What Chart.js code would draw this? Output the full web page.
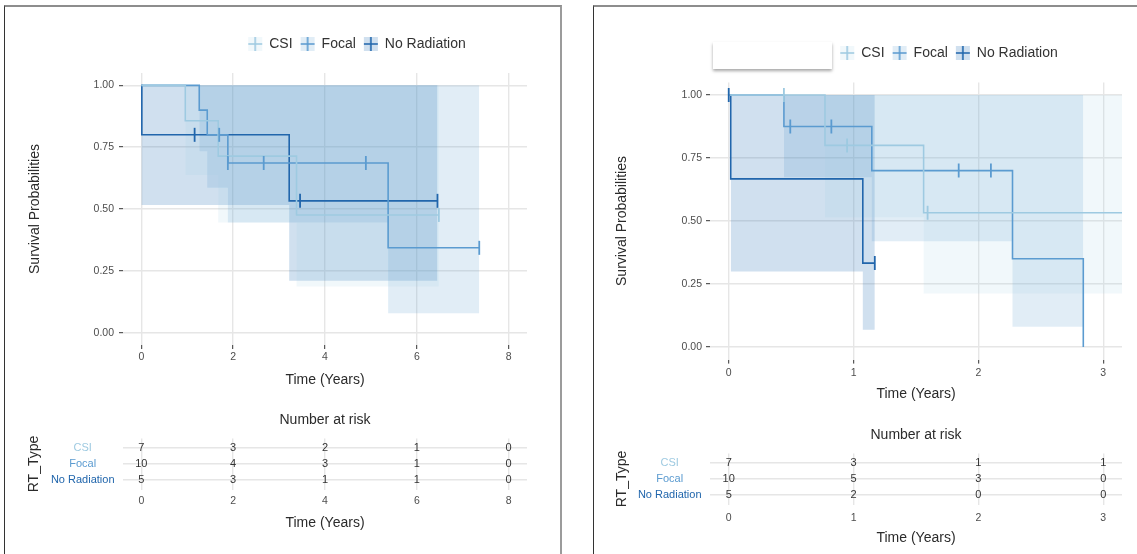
<!DOCTYPE html>
<html>
<head>
<meta charset="utf-8">
<script src="https://cdn.jsdelivr.net/npm/chart.js@4.4.1/dist/chart.umd.min.js"></script>
<style>
  html, body { margin: 0; padding: 0; background: #fff; }
  body { width: 1137px; height: 554px; position: relative; overflow: hidden; }
  .frame { position: absolute; box-sizing: border-box; }
  #frameA { left: 4px; top: 5px; width: 558px; height: 600px;
            border-top: 2px solid #8d8d8d; border-left: 1px solid #333; border-right: 2px solid #9b9b9b; }
  #frameB { left: 593px; top: 5px; width: 600px; height: 600px;
            border-top: 2px solid #8d8d8d; border-left: 1px solid #333; }
  canvas { position: absolute; }
  #blankBox { position: absolute; left: 713px; top: 42px; width: 119px; height: 27px;
              background: #fff; box-shadow: 0 2px 3px rgba(0,0,0,0.35); }
</style>
</head>
<body>
<div class="frame" id="frameA"></div>
<div class="frame" id="frameB"></div>
<canvas id="survA" width="560" height="400" style="left:0;top:0"></canvas>
<canvas id="riskA" width="560" height="154" style="left:0;top:400px"></canvas>
<canvas id="survB" width="543" height="410" style="left:594px;top:0"></canvas>
<canvas id="riskB" width="543" height="144" style="left:594px;top:410px"></canvas>
<div id="blankBox"></div>
<script>
Chart.defaults.font.family = "'Liberation Sans', Arial, Helvetica, sans-serif";

// Treatment groups and probability ticks
const groups = ['CSI', 'Focal', 'No Radiation'];
const survTicks = [0, 0.25, 0.5, 0.75, 1];

// ---------- Cohort A ----------
// Kaplan-Meier steps: each survival value holds from its time until the next
const csiTimesA   = [0, 0.957, 1.674, 3.38, 6.48];
const csiSurvA    = [1, 0.857, 0.714, 0.476, 0.476];
const focalTimesA = [0, 1.261, 1.435, 1.884, 5.375, 7.36];
const focalSurvA  = [1, 0.9, 0.8, 0.686, 0.343, 0.343];
const noRadTimesA = [0, 0.01, 3.22, 6.45];
const noRadSurvA  = [1, 0.8, 0.533, 0.533];
// censoring times
const csiCensorA   = [6.48];
const focalCensorA = [1.696, 1.884, 2.665, 4.89, 7.36];
const noRadCensorA = [1.16, 3.457, 6.45];
// confidence bands (step start times, lower and upper limits)
const csiBandTimesA   = [0.957, 1.674, 3.38, 6.48];
const csiLowerA       = [0.637, 0.445, 0.187, 0.187];
const csiUpperA       = [1, 1, 1, 1];
const focalBandTimesA = [1.261, 1.435, 1.884, 5.375, 7.36];
const focalLowerA     = [0.734, 0.586, 0.445, 0.078, 0.078];
const focalUpperA     = [1, 1, 1, 1, 1];
const noRadBandTimesA = [0, 3.22, 6.45];
const noRadLowerA     = [0.516, 0.21, 0.21];
const noRadUpperA     = [1, 1, 1];
// number at risk
const riskTimesA = [0, 2, 4, 6, 8];
const csiRiskA   = [7, 3, 2, 1, 0];
const focalRiskA = [10, 4, 3, 1, 0];
const noRadRiskA = [5, 3, 1, 1, 0];
const xTicksA = [0, 2, 4, 6, 8];

// ---------- Cohort B ----------
const csiTimesB   = [0, 0.771, 1.561, 3.15];
const csiSurvB    = [1, 0.8, 0.533, 0.533];
const focalTimesB = [0, 0.442, 1.146, 2.273, 2.84];
const focalSurvB  = [1, 0.875, 0.7, 0.35, 0];
const noRadTimesB = [0, 0.016, 1.074, 1.17];
const noRadSurvB  = [1, 0.667, 0.333, 0.333];
const csiCensorB   = [0.442, 0.948, 1.593];
const focalCensorB = [0.493, 0.822, 1.842, 2.10];
const noRadCensorB = [0, 1.17];
const csiBandTimesB   = [0.771, 1.561, 3.15];
const csiLowerB       = [0.515, 0.212, 0.212];
const csiUpperB       = [1, 1, 1];
const focalBandTimesB = [0.442, 1.146, 2.273, 2.84];
const focalLowerB     = [0.674, 0.42, 0.08, 0.08];
const focalUpperB     = [1, 1, 1, 1];
const noRadBandTimesB = [0.016, 1.074, 1.17];
const noRadLowerB     = [0.30, 0.068, 0.068];
const noRadUpperB     = [1, 1, 1];
const riskTimesB = [0, 1, 2, 3];
const csiRiskB   = [7, 3, 1, 1];
const focalRiskB = [10, 5, 3, 0];
const noRadRiskB = [5, 2, 0, 0];
const xTicksB = [0, 1, 2, 3];

// ---------- styling ----------
const lineColors = ['#9ecae1', '#5b9bd0', '#2166ac'];
const bandColors = ['rgba(158,202,225,0.14)', 'rgba(66,146,198,0.16)', 'rgba(42,114,182,0.22)'];
const gridColor = '#e6e6e6';
const tickText = '#4d4d4d';
const titleText = '#2b2b2b';

const pts = (xs, ys) => xs.map((x, i) => ({ x, y: ys[i] }));
// survival value of a step curve at time t
function survAt(times, surv, t) {
  let s = surv[0];
  for (let i = 0; i < times.length; i++) if (times[i] <= t) s = surv[i];
  return s;
}

function survDatasets(series) {
  const ds = [];
  series.forEach((s, i) => ds.push({
    label: groups[i] + ' censored',
    data: s.censor.map(t => ({ x: t, y: survAt(s.times, s.surv, t) })),
    showLine: false, pointStyle: 'line', rotation: 90,
    pointRadius: 7, pointHoverRadius: 7, pointBorderWidth: 1.8,
    pointBorderColor: lineColors[i], borderColor: lineColors[i], order: 0
  }));
  series.forEach((s, i) => ds.push({
    label: groups[i], data: pts(s.times, s.surv), stepped: true,
    borderColor: lineColors[i], borderWidth: 1.6, pointRadius: 0, fill: false, order: 1
  }));
  series.forEach((s, i) => {
    const upperIndex = ds.length;
    ds.push({ label: groups[i] + ' upper', data: pts(s.bandTimes, s.upper), stepped: true,
      borderWidth: 0, borderColor: 'transparent', pointRadius: 0, fill: false, order: 2 });
    ds.push({ label: groups[i] + ' lower', data: pts(s.bandTimes, s.lower), stepped: true,
      borderWidth: 0, borderColor: 'transparent', pointRadius: 0,
      fill: upperIndex, backgroundColor: bandColors[i], order: 2 });
  });
  return ds;
}

function legendGlyph(i) {
  const c = document.createElement('canvas');
  c.width = 16; c.height = 16;
  const g = c.getContext('2d');
  g.fillStyle = bandColors[i];
  g.fillRect(1, 1, 14, 14);
  g.strokeStyle = lineColors[i];
  g.lineWidth = 1.6;
  g.beginPath();
  g.moveTo(8, 1); g.lineTo(8, 15);
  g.moveTo(1, 8); g.lineTo(15, 8);
  g.stroke();
  return c;
}
const glyphs = groups.map((_, i) => legendGlyph(i));

// moves the legend row to a chosen centre point after layout
const legendPlacement = {
  id: 'legendPlacement',
  afterLayout(chart, args, opts) {
    const lg = chart.legend;
    if (!lg || !lg.options.display) return;
    const pad = lg.options.labels.padding;
    const size = lg.options.labels.font.size;
    const dx = opts.x - (lg.left + lg.right) / 2;
    const dy = opts.y - (lg.top + pad + size / 2);
    lg.left += dx; lg.right += dx; lg.top += dy; lg.bottom += dy;
  }
};

// writes each at-risk count at its point
const cellNumbers = {
  id: 'cellNumbers',
  afterDatasetsDraw(chart) {
    const ctx = chart.ctx;
    ctx.save();
    ctx.font = "11px 'Liberation Sans', Arial, sans-serif";
    ctx.fillStyle = '#333';
    ctx.textAlign = 'center';
    ctx.textBaseline = 'middle';
    chart.data.datasets.forEach((ds, i) => {
      chart.getDatasetMeta(i).data.forEach((el, j) => ctx.fillText(String(ds.data[j].n), el.x, el.y));
    });
    ctx.restore();
  }
};

function survChart(id, series, cfg) {
  return new Chart(document.getElementById(id), {
    type: 'line',
    data: { datasets: survDatasets(series) },
    options: {
      responsive: false, animation: false, events: [],
      layout: { padding: { left: 0, right: cfg.padRight, top: cfg.padTop, bottom: 0 } },
      scales: {
        x: {
          type: 'linear', min: cfg.xMin, max: cfg.xMax,
          afterBuildTicks: s => { s.ticks = cfg.xTicks.map(v => ({ value: v })); },
          afterFit: s => { s.height = cfg.xHeight; },
          border: { display: false },
          grid: { color: gridColor, lineWidth: 1.4, tickColor: '#333', tickLength: 4, tickWidth: 1 },
          ticks: { color: tickText, font: { size: 10.5 }, padding: cfg.xTickPad, maxRotation: 0 },
          title: { display: true, text: 'Time (Years)', color: titleText, font: { size: 14 },
                   padding: { top: 0, bottom: cfg.xTitlePad } }
        },
        y: {
          type: 'linear', min: -0.05, max: 1.05,
          afterBuildTicks: s => { s.ticks = survTicks.map(v => ({ value: v })); },
          afterFit: s => { s.width = cfg.yWidth; },
          border: { display: false },
          grid: { color: gridColor, lineWidth: 1.4, tickColor: '#333', tickLength: 4, tickWidth: 1 },
          ticks: { color: tickText, font: { size: 10.5 }, padding: cfg.yTickPad, callback: v => v.toFixed(2) },
          title: { display: true, text: 'Survival Probabilities', color: titleText, font: { size: 14 },
                   padding: { top: cfg.yTitlePad, bottom: 0 } }
        }
      },
      plugins: {
        tooltip: { enabled: false },
        legend: {
          display: true, position: 'top',
          labels: {
            usePointStyle: true, padding: 8, color: '#333', font: { size: 14 },
            generateLabels: () => groups.map((g, i) => ({
              text: g, pointStyle: glyphs[i], fillStyle: bandColors[i],
              strokeStyle: lineColors[i], lineWidth: 0, hidden: false, fontColor: '#333'
            }))
          }
        },
        legendPlacement: { x: cfg.legendX, y: cfg.legendY }
      }
    },
    plugins: [legendPlacement]
  });
}

function riskChart(id, times, counts, cfg) {
  const datasets = counts.map((row, i) => ({
    label: groups[i],
    data: times.map((t, j) => ({ x: t, y: i + 1, n: row[j] })),
    showLine: false, pointRadius: 0, pointHoverRadius: 0
  }));
  return new Chart(document.getElementById(id), {
    type: 'line',
    data: { datasets },
    options: {
      responsive: false, animation: false, events: [],
      layout: { padding: { left: 0, right: cfg.padRight, top: 0, bottom: 0 } },
      scales: {
        x: {
          type: 'linear', min: cfg.xMin, max: cfg.xMax,
          afterBuildTicks: s => { s.ticks = cfg.xTicks.map(v => ({ value: v })); },
          afterFit: s => { s.height = cfg.xHeight; },
          border: { display: false },
          grid: { color: gridColor, lineWidth: 1.4, drawTicks: false },
          ticks: { color: tickText, font: { size: 10.5 }, padding: cfg.xTickPad, maxRotation: 0 },
          title: { display: true, text: 'Time (Years)', color: titleText, font: { size: 14 },
                   padding: { top: 0, bottom: cfg.xTitlePad } }
        },
        y: {
          type: 'linear', min: 0.4, max: 3.6, reverse: true,
          afterBuildTicks: s => { s.ticks = groups.map((_, i) => ({ value: i + 1 })); },
          afterFit: s => { s.width = cfg.yWidth; },
          border: { display: false },
          grid: { color: gridColor, lineWidth: 1.4, drawTicks: false },
          ticks: { font: { size: 11 }, padding: 8.5, crossAlign: 'center',
                   color: c => lineColors[c.index], callback: v => groups[v - 1] },
          title: { display: true, text: 'RT_Type', color: titleText, font: { size: 14 },
                   padding: { top: cfg.yTitlePad, bottom: 0 } }
        }
      },
      plugins: {
        tooltip: { enabled: false },
        legend: { display: false },
        title: { display: true, text: 'Number at risk', fullSize: false, color: titleText,
                 font: { size: 14, weight: 'normal' }, padding: { top: cfg.titleTop, bottom: cfg.titleBottom } }
      }
    },
    plugins: [cellNumbers]
  });
}

// ---------- Cohort A charts ----------
survChart('survA', [
  { times: csiTimesA, surv: csiSurvA, censor: csiCensorA, bandTimes: csiBandTimesA, lower: csiLowerA, upper: csiUpperA },
  { times: focalTimesA, surv: focalSurvA, censor: focalCensorA, bandTimes: focalBandTimesA, lower: focalLowerA, upper: focalUpperA },
  { times: noRadTimesA, surv: noRadSurvA, censor: noRadCensorA, bandTimes: noRadBandTimesA, lower: noRadLowerA, upper: noRadUpperA }
], { xMin: -0.4, xMax: 8.4, xTicks: xTicksA, padRight: 33, padTop: 41, xHeight: 55, yWidth: 123,
     xTickPad: 2.3, xTitlePad: 11.6, yTickPad: 5, yTitlePad: 26.6, legendX: 357, legendY: 44 });

riskChart('riskA', riskTimesA, [csiRiskA, focalRiskA, noRadRiskA],
  { xMin: -0.4, xMax: 8.4, xTicks: xTicksA, padRight: 33, xHeight: 64.4, yWidth: 123,
    xTickPad: 4.8, xTitlePad: 22.9, yTitlePad: 25.6, titleTop: 11.6, titleBottom: 10 });

// ---------- Cohort B charts ----------
survChart('survB', [
  { times: csiTimesB, surv: csiSurvB, censor: csiCensorB, bandTimes: csiBandTimesB, lower: csiLowerB, upper: csiUpperB },
  { times: focalTimesB, surv: focalSurvB, censor: focalCensorB, bandTimes: focalBandTimesB, lower: focalLowerB, upper: focalUpperB },
  { times: noRadTimesB, surv: noRadSurvB, censor: noRadCensorB, bandTimes: noRadBandTimesB, lower: noRadLowerB, upper: noRadUpperB }
], { xMin: -0.15, xMax: 3.15, xTicks: xTicksB, padRight: 15, padTop: 50.4, xHeight: 50.4, yWidth: 116,
     xTickPad: 3.1, xTitlePad: 7.6, yTickPad: 4, yTitlePad: 19.6, legendX: 355, legendY: 53 });

riskChart('riskB', riskTimesB, [csiRiskB, focalRiskB, noRadRiskB],
  { xMin: -0.15, xMax: 3.15, xTicks: xTicksB, padRight: 15, xHeight: 49.4, yWidth: 116,
    xTickPad: 7.1, xTitlePad: 7.6, yTitlePad: 20.1, titleTop: 16.6, titleBottom: 10 });
</script>
</body>
</html>
